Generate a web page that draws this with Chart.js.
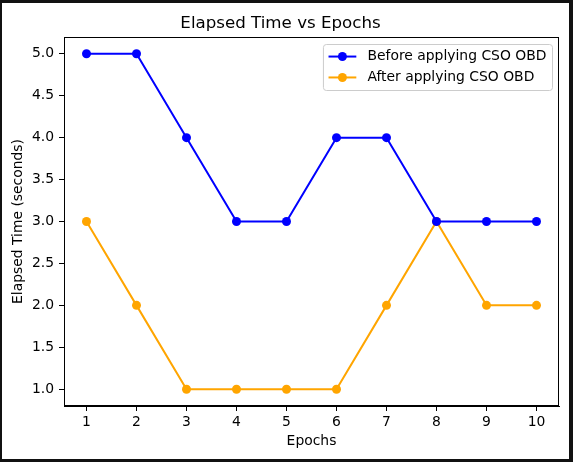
<!DOCTYPE html>
<html><head><meta charset="utf-8">
<script src="https://cdn.jsdelivr.net/npm/chart.js@4"></script>
<style>
html,body{margin:0;padding:0;background:#111;width:573px;height:462px;overflow:hidden}
#wrap{position:absolute;left:2px;top:3px;width:567px;height:456px;background:#fff}
canvas{display:block}
</style></head><body>
<div id="wrap"><canvas id="c" width="567" height="456"></canvas></div>
<script>
const epochs = [1,2,3,4,5,6,7,8,9,10];
const beforeCSO = [5,5,4,3,3,4,4,3,3,3];
const afterCSO = [3,2,1,1,1,1,2,3,2,2];
const yTicks = [1.0,1.5,2.0,2.5,3.0,3.5,4.0,4.5,5.0];
const xTicks = [1,2,3,4,5,6,7,8,9,10];
const seriesLabels = ['Before applying CSO OBD','After applying CSO OBD'];
const FONT = 'DejaVu Sans';
const FS = 13.9;

const frame = {
  id:'frame',
  afterDatasetsDraw(chart){
    const {ctx, chartArea:a} = chart;
    ctx.save();
    ctx.strokeStyle='#000'; ctx.lineWidth=1;
    ctx.strokeRect(Math.round(a.left)+0.5, Math.round(a.top)+0.5, Math.round(a.right-a.left)-1, Math.round(a.bottom-a.top)-1);
    ctx.restore();
  },
  afterDraw(chart){
    const {ctx, chartArea:a} = chart;
    const ds = chart.data.datasets;
    ctx.save();
    ctx.font = FS+'px "'+FONT+'"';
    let tw = 0;
    ds.forEach(d=>{tw=Math.max(tw,ctx.measureText(d.label).width);});
    const pad=5.6, hl=27.8, htp=11.1, ls=7, bap=7;
    const w = pad+hl+htp+tw+pad, h = 2*pad+ds.length*FS+(ds.length-1)*ls;
    const x = a.right-bap-w, y = a.top+bap;
    ctx.beginPath();
    if (ctx.roundRect) ctx.roundRect(x+0.5,y+0.5,w,h,3); else ctx.rect(x+0.5,y+0.5,w,h);
    ctx.fillStyle='rgba(255,255,255,0.8)'; ctx.fill();
    ctx.strokeStyle='#cccccc'; ctx.lineWidth=1; ctx.stroke();
    ds.forEach((d,i)=>{
      const cy = y+pad+FS/2+i*(FS+ls);
      ctx.strokeStyle=d.borderColor; ctx.lineWidth=2;
      ctx.beginPath(); ctx.moveTo(x+pad,cy); ctx.lineTo(x+pad+hl,cy); ctx.stroke();
      ctx.fillStyle=d.borderColor;
      ctx.beginPath(); ctx.arc(x+pad+hl/2,cy,4.5,0,Math.PI*2); ctx.fill();
      ctx.fillStyle='#000'; ctx.textBaseline='middle'; ctx.textAlign='left';
      ctx.fillText(d.label, x+pad+hl+htp, cy);
    });
    ctx.restore();
  }
};

new Chart(document.getElementById('c'), {
  type:'line',
  data:{
    datasets:[
      {label:seriesLabels[0], data:epochs.map((e,i)=>({x:e,y:beforeCSO[i]})), borderColor:'#0000ff', backgroundColor:'#0000ff', pointBackgroundColor:'#0000ff', pointBorderWidth:0, pointRadius:4.5, borderWidth:2, tension:0},
      {label:seriesLabels[1], data:epochs.map((e,i)=>({x:e,y:afterCSO[i]})), borderColor:'#ffa500', backgroundColor:'#ffa500', pointBackgroundColor:'#ffa500', pointBorderWidth:0, pointRadius:4.5, borderWidth:2, tension:0}
    ]
  },
  options:{
    responsive:false, animation:false, devicePixelRatio:1,
    layout:{padding:{left:0,right:10,top:0,bottom:0}},
    plugins:{
      legend:{display:false},
      tooltip:{enabled:false},
      title:{display:true, text:'Elapsed Time vs Epochs', color:'#000', font:{family:FONT,size:16.67,weight:'normal'}, padding:{top:11,bottom:3}}
    },
    scales:{
      x:{type:'linear', min:0.55, max:10.45,
        afterBuildTicks(s){s.ticks = xTicks.map(v=>({value:v}));},
        afterFit(s){s.height=53;},
        grid:{drawOnChartArea:false, drawTicks:true, tickLength:5, color:'#000'},
        border:{display:true,color:'#000'},
        ticks:{color:'#000', font:{family:FONT,size:FS}, padding:3, maxRotation:0, autoSkip:false, callback:v=>String(v)},
        title:{display:true, text:'Epochs', color:'#000', font:{family:FONT,size:FS}, padding:{top:0,bottom:9.6}}
      },
      y:{type:'linear', min:0.8, max:5.2,
        afterBuildTicks(s){s.ticks = yTicks.map(v=>({value:v}));},
        afterFit(s){s.width=62;},
        grid:{drawOnChartArea:false, drawTicks:true, tickLength:5, color:'#000'},
        border:{display:true,color:'#000'},
        ticks:{color:'#000', font:{family:FONT,size:FS}, padding:5, autoSkip:false, callback:v=>Number(v).toFixed(1)},
        title:{display:true, text:'Elapsed Time (seconds)', color:'#000', font:{family:FONT,size:FS}, padding:{top:7.6,bottom:0}}
      }
    }
  },
  plugins:[frame]
});
</script>
</body></html>
